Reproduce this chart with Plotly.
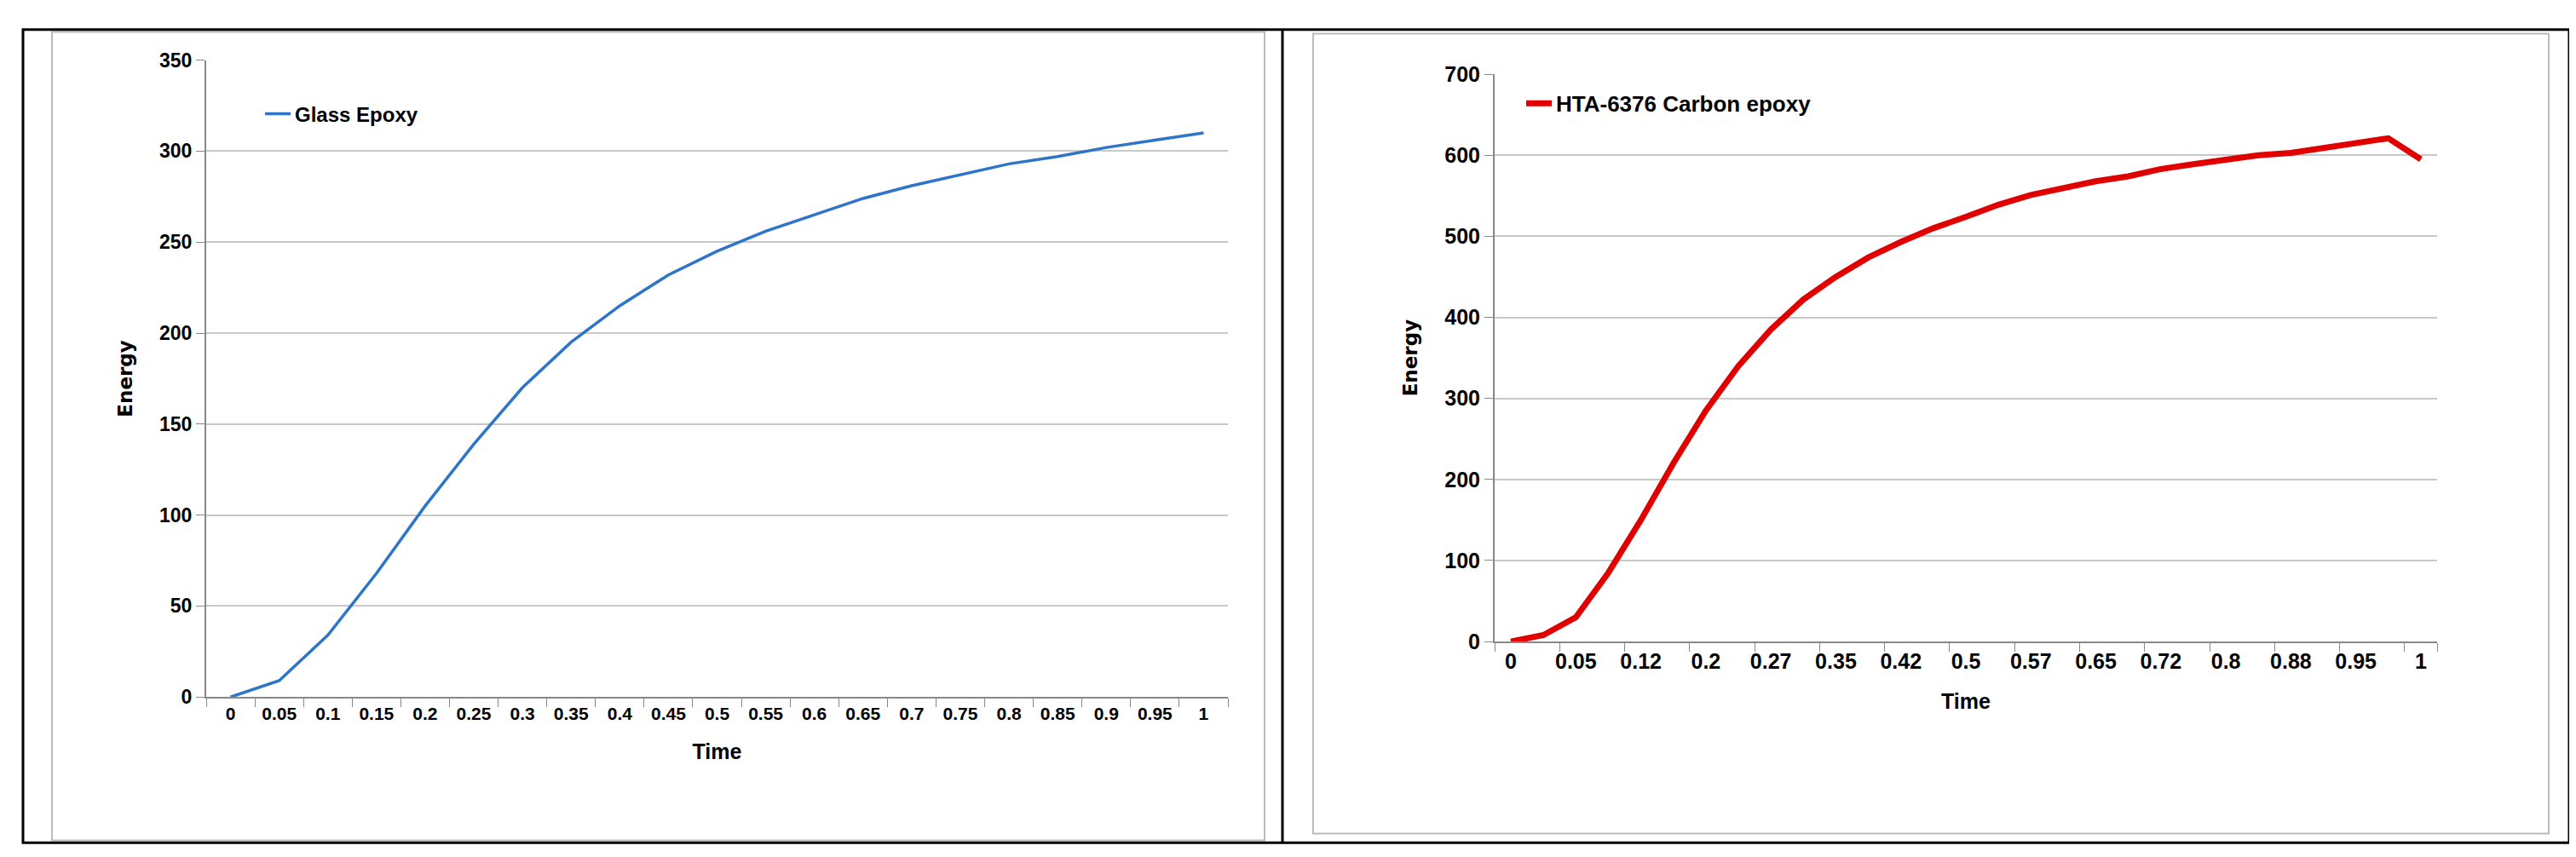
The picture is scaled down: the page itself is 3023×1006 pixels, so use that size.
import plotly.graph_objects as go

time_left = ["0","0.05","0.1","0.15","0.2","0.25","0.3","0.35","0.4","0.45","0.5","0.55","0.6","0.65","0.7","0.75","0.8","0.85","0.9","0.95","1"]
energy_glass = [0,9,34,68,105,139,170,195,215,232,245,256,265,274,281,287,293,297,302,306,310]

time_right = ["0","0.02","0.05","0.08","0.12","0.16","0.2","0.23","0.27","0.31","0.35","0.38","0.42","0.46","0.5","0.53","0.57","0.61","0.65","0.68","0.72","0.76","0.8","0.84","0.88","0.91","0.95","0.98","1"]
energy_carbon = [0,8,30,85,150,220,285,340,385,422,450,474,493,510,524,539,551,560,568,574,583,589,595,600,603,609,615,621,595]
right_tick_labels = time_right[0:27:2] + [time_right[-1]]

W, H = 3023, 1006
FONT = "Liberation Sans Narrow, Liberation Sans, Arial"
fig = go.Figure()
fig.add_trace(go.Scatter(x=time_left, y=energy_glass, mode="lines", name="Glass Epoxy",
                         line=dict(color="#2E75C9", width=3.5), xaxis="x", yaxis="y", legend="legend"))
fig.add_trace(go.Scatter(x=time_right, y=energy_carbon, mode="lines", name="HTA-6376 Carbon epoxy",
                         line=dict(color="#E00000", width=7), xaxis="x2", yaxis="y2", legend="legend2"))

def tf(size):
    return dict(size=size, color="black", family=FONT, weight="bold")

ax = dict(type="category", showgrid=False, ticks="outside", tickson="boundaries", ticklen=10,
          tickcolor="#888", showline=True, linecolor="#888", linewidth=2, tickangle=0,
          title=dict(text="Time", font=tf(25), standoff=25))
ay = dict(showgrid=True, gridcolor="#C8C8C8", gridwidth=2, ticks="outside", ticklen=10, tickcolor="#888",
          showline=True, linecolor="#888", linewidth=2, zeroline=False,
          title=dict(text="<b>Energy</b>", font=dict(size=23, color="black", family="DejaVu Sans"), standoff=25))

fig.update_layout(
    width=W, height=H, margin=dict(l=0, r=0, t=0, b=0),
    paper_bgcolor="white", plot_bgcolor="white", showlegend=True,
    xaxis=dict(ax, domain=[234/W, 1433/W], range=[-0.5, len(time_left)-0.5], tickfont=tf(21)),
    yaxis=dict(ay, domain=[1-819/H, 1-50/H], range=[0, 350], dtick=50, anchor="x", tickfont=tf(23)),
    xaxis2=dict(ax, domain=[1746/W, 2852/W], anchor="y2", tickmode="array",
                range=[-0.5, len(time_right)-0.5],
                tickvals=right_tick_labels, ticktext=right_tick_labels, tickfont=tf(25)),
    yaxis2=dict(ay, domain=[1-752/H, 1-67/H], range=[0, 700], dtick=100, anchor="x2", tickfont=tf(25)),
    legend=dict(x=298/W, y=1-92/H, xanchor="left", yanchor="top", bgcolor="rgba(0,0,0,0)",
                font=tf(24)),
    legend2=dict(x=1778/W, y=1-78/H, xanchor="left", yanchor="top", bgcolor="rgba(0,0,0,0)",
                 font=tf(26)),
)

shapes = [
    dict(type="rect", xref="paper", yref="paper", x0=53/W, x1=1476/W, y0=1-992/H, y1=1-16/H,
         line=dict(color="#BBBBBB", width=2)),
    dict(type="rect", xref="paper", yref="paper", x0=1533/W, x1=2983/W, y0=1-984/H, y1=1-18/H,
         line=dict(color="#BBBBBB", width=2)),
    dict(type="rect", xref="paper", yref="paper", x0=19/W, x1=3007/W, y0=1-995/H, y1=1-13/H,
         line=dict(color="black", width=3)),
    dict(type="line", xref="paper", yref="paper", x0=1497/W, x1=1497/W, y0=1-995/H, y1=1-13/H,
         line=dict(color="black", width=3)),
]
fig.update_layout(shapes=shapes)
fig.write_html("out.html")
